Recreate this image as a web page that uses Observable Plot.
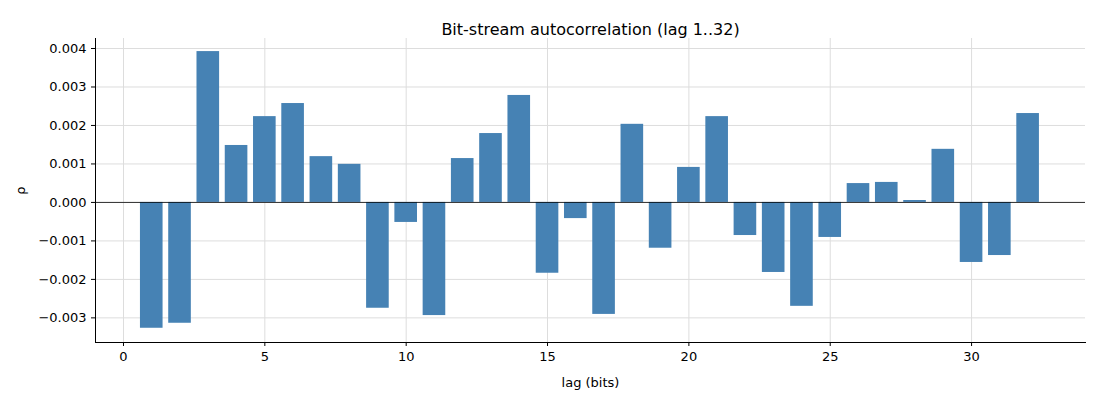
<!DOCTYPE html>
<html><head><meta charset="utf-8">
<script src="https://cdn.jsdelivr.net/npm/d3@7"></script>
<script src="https://cdn.jsdelivr.net/npm/@observablehq/plot@0.6"></script>
<style>body{margin:0;background:#fff;font-family:"DejaVu Sans",sans-serif}</style>
</head><body><div id="c"></div>
<script>
const lags = d3.range(1, 33);
const rho = [-0.00327,-0.00314,0.00392,0.00148,0.00223,0.00257,0.00119,0.00099,-0.00275,-0.00052,-0.00294,0.00114,0.00179,0.00278,-0.00184,-0.00042,-0.00291,0.00203,-0.00119,0.00091,0.00223,-0.00086,-0.00182,-0.0027,-0.00091,0.00049,0.00052,0.00005,0.00138,-0.00156,-0.00138,0.00231];
const xTicks = [0,5,10,15,20,25,30];
const yTicks = [-0.003,-0.002,-0.001,0,0.001,0.002,0.003,0.004];
const data = lags.map((l,i)=>({lag:l, v:rho[i]}));
const plot = Plot.plot({
  width:1100, height:400, marginLeft:95, marginRight:15, marginTop:38, marginBottom:58,
  style:{fontFamily:"DejaVu Sans, sans-serif", fontSize:"13px", color:"#000"},
  x:{domain:[-0.99,34.03], ticks:xTicks, label:"lag (bits)", labelAnchor:"center", labelArrow:"none", labelOffset:44},
  y:{domain:[-0.00364,0.00426], ticks:yTicks, tickFormat:d=>d.toFixed(3).replace("-","−"), label:"ρ", labelAnchor:"center", labelArrow:"none", labelOffset:80},
  marks:[
    Plot.gridX(xTicks,{stroke:"#ddd", strokeOpacity:1}),
    Plot.gridY(yTicks,{stroke:"#ddd", strokeOpacity:1}),
    Plot.rectY(data,{x1:d=>d.lag-0.4, x2:d=>d.lag+0.4, y1:0, y2:"v", fill:"#4682b4"}),
    Plot.ruleY([0],{stroke:"#000", strokeWidth:0.8}),
    Plot.axisX({ticks:xTicks, tickSize:4, label:"lag (bits)", labelAnchor:"center", labelArrow:"none", labelOffset:44}),
    Plot.axisY({ticks:yTicks, tickSize:4, tickFormat:d=>d.toFixed(3).replace("-","−"), label:"ρ", labelAnchor:"center", labelArrow:"none", labelOffset:80}),
    Plot.frame({anchor:"left"}),
    Plot.frame({anchor:"bottom"}),
    Plot.text(["Bit-stream autocorrelation (lag 1..32)"],{frameAnchor:"top", dy:-15, fontSize:16})
  ]
});
document.getElementById("c").appendChild(plot);
</script></body></html>
